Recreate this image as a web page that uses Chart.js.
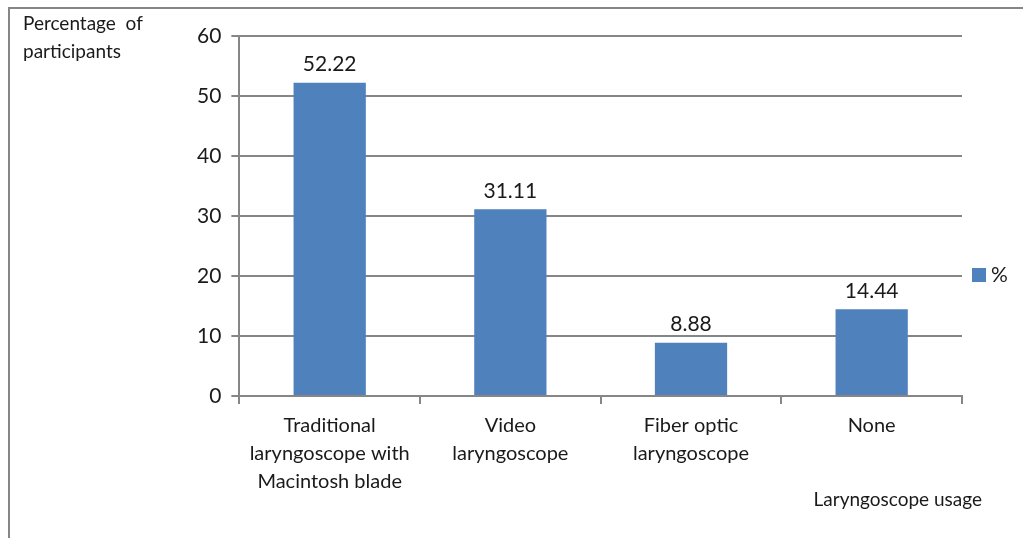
<!DOCTYPE html>
<html>
<head>
<meta charset="utf-8">
<script src="https://cdn.jsdelivr.net/npm/chart.js@4/dist/chart.umd.min.js"></script>
<style>
  html, body { margin: 0; padding: 0; background: #fff; }
  #wrap { position: absolute; left: 0; top: 0; width: 1023px; height: 538px; }
  #frame { position: absolute; left: 8px; top: 7px; width: 1100px; height: 600px;
           border-left: 2px solid #868686; border-top: 2px solid #868686; }
</style>
</head>
<body>
<div id="wrap">
  <div id="frame"></div>
  <canvas id="miGrafico" width="1023" height="538"></canvas>
</div>
<script>
// Datos
const categorias = [
  ['Traditional', 'laryngoscope with', 'Macintosh blade'],
  ['Video', 'laryngoscope'],
  ['Fiber optic', 'laryngoscope'],
  'None'
];
const porcentajes = [52.22, 31.11, 8.88, 14.44];
const serieNombre = '%';
const tituloY = ['Percentage  of', 'participants'];
const tituloX = 'Laryngoscope usage';

const azul = '#4f81bd';
const gris = '#868686';
const fuente = 'Lato, "Liberation Sans", sans-serif';

// Plugin: etiquetas, titulos y leyenda
const extras = {
  id: 'extras',
  afterDatasetsDraw(chart) {
    const ctx = chart.ctx;
    const meta = chart.getDatasetMeta(0);
    ctx.save();
    ctx.fillStyle = '#1a1a1a';
    ctx.font = '21px ' + fuente;
    ctx.textAlign = 'center';
    ctx.textBaseline = 'bottom';
    meta.data.forEach((bar, i) => {
      ctx.fillText(porcentajes[i].toFixed(2), bar.x, bar.y - 8);
    });

    // titulo eje Y
    ctx.font = '19px ' + fuente;
    ctx.textAlign = 'left';
    ctx.textBaseline = 'middle';
    tituloY.forEach((t, i) => ctx.fillText(t, 23, 24 + i * 28));

    // titulo eje X
    ctx.textAlign = 'right';
    ctx.fillText(tituloX, 982, 500);

    // leyenda
    ctx.fillStyle = azul;
    ctx.fillRect(972, 268, 14, 14);
    ctx.fillStyle = '#1a1a1a';
    ctx.font = '21px ' + fuente;
    ctx.textAlign = 'left';
    ctx.fillText(serieNombre, 991, 275);
    ctx.restore();
  }
};

const chartData = {
  labels: categorias,
  datasets: [{
    label: serieNombre,
    data: porcentajes,
    backgroundColor: azul,
    borderWidth: 0,
    categoryPercentage: 0.4,
    barPercentage: 1.0
  }]
};

const grafico = new Chart(document.getElementById('miGrafico'), {
  type: 'bar',
  data: chartData,
  plugins: [extras],
  options: {
    responsive: false,
    animation: false,
    devicePixelRatio: 1,
    layout: { padding: { left: 187, right: 61, top: 36, bottom: 34 } },
    plugins: {
      legend: { display: false },
      tooltip: { enabled: false }
    },
    scales: {
      x: {
        grid: { drawOnChartArea: false, color: gris, lineWidth: 2, tickLength: 8, offset: true },
        border: { color: gris, width: 2 },
        ticks: { color: '#1a1a1a', font: { family: fuente, size: 20, lineHeight: 1.4 }, maxRotation: 0, padding: 8 }
      },
      y: {
        min: 0,
        max: 60,
        grid: { color: gris, lineWidth: 2, tickLength: 8 },
        border: { color: gris, width: 2 },
        ticks: { stepSize: 10, color: '#1a1a1a', font: { family: fuente, size: 21 }, padding: 10 }
      }
    }
  }
});
</script>
</body>
</html>
